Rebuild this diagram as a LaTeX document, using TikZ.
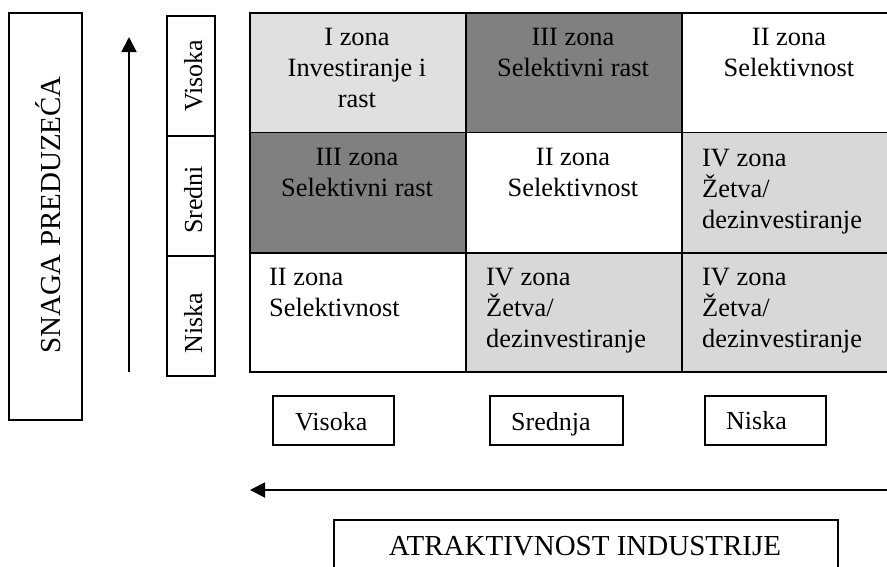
\documentclass[tikz,border=0pt]{standalone}
\usepackage{fontspec}
\setmainfont{Liberation Serif}
\usetikzlibrary{arrows.meta}
\definecolor{zoneI}{HTML}{E0E0E0}
\definecolor{zoneIII}{HTML}{808080}
\definecolor{zoneIV}{HTML}{D8D8D8}
\tikzset{
  box/.style={draw=black, line width=1.9pt, inner sep=0pt, anchor=north west},
  cell/.style={box, minimum width=216pt, minimum height=120pt},
  rowlab/.style={box, minimum width=48pt, minimum height=120pt},
  celltxt/.style={inner sep=0pt, font=\fontsize{26.4}{31.3}\selectfont},
  ctxt/.style={celltxt, align=center, anchor=north},
  ltxt/.style={celltxt, align=left, anchor=north west},
  labtxt/.style={inner sep=0pt, font=\fontsize{26}{30}\selectfont},
  bigtxt/.style={inner sep=0pt, font=\fontsize{29}{34}\selectfont},
  arr/.style={line width=1.9pt, -{Triangle[width=15pt,length=15pt]}}
}
\begin{document}
\begin{tikzpicture}[x=1pt,y=-1pt]
\useasboundingbox (0,0) rectangle (887,566);
\clip (0,0) rectangle (887,566);
% left title box
\node[box, minimum width=73pt, minimum height=407pt] (snaga) at (8,12) {};
\node[bigtxt, rotate=90, anchor=base] (snagat) at (60,215) {SNAGA PREDUZEĆA};
% vertical arrow
\coordinate (vbot) at (129,372);
\coordinate (vtop) at (129,37);
\draw[arr] (vbot) -- (vtop);
% row labels
\node[rowlab] (rv) at (166,15) {};
\node[rowlab] (rs) at (166,135) {};
\node[rowlab] (rn) at (166,255) {};
\node[labtxt, rotate=90, anchor=base] at (202,75.5) {Visoka};
\node[labtxt, rotate=90, anchor=base] at (202,200) {Sredni};
\node[labtxt, rotate=90, anchor=base] at (202,323) {Niska};
% grid cells
\node[cell, fill=zoneI]   (c11) at (249,12) {};
\node[cell, fill=zoneIII] (c12) at (465,12) {};
\node[cell, fill=white]   (c13) at (681,12) {};
\node[cell, fill=zoneIII, minimum height=120.5pt] (c21) at (249,131.5) {};
\node[cell, fill=white, minimum height=120.5pt]   (c22) at (465,131.5) {};
\node[cell, fill=zoneIV, minimum height=120.5pt]  (c23) at (681,131.5) {};
\node[cell, fill=white, minimum height=119pt]   (c31) at (249,252) {};
\node[cell, fill=zoneIV, minimum height=119pt]  (c32) at (465,252) {};
\node[cell, fill=zoneIV, minimum height=119pt]  (c33) at (681,252) {};
% cell texts
\node[ctxt] at (357,27.7) {I zona\\Investiranje i\\rast};
\node[ctxt] at (573,27.7) {III zona\\Selektivni rast};
\node[ctxt] at (789,27.7) {II zona\\Selektivnost};
\node[ctxt] at (357,148.2) {III zona\\Selektivni rast};
\node[ctxt] at (573,148.2) {II zona\\Selektivnost};
\node[ltxt] at (702,148.7) {IV zona\\Žetva/\\dezinvestiranje};
\node[ltxt] at (269,267.7) {II zona\\Selektivnost};
\node[ltxt] at (486,267.7) {IV zona\\Žetva/\\dezinvestiranje};
\node[ltxt] at (702,267.7) {IV zona\\Žetva/\\dezinvestiranje};
% bottom labels
\node[box, minimum width=121pt, minimum height=49pt] (bv) at (272,395) {};
\node[box, minimum width=133pt, minimum height=49pt] (bs) at (489,395) {};
\node[box, minimum width=121pt, minimum height=49pt] (bn) at (704,395) {};
\node[labtxt, anchor=base west] at (295,430) {Visoka};
\node[labtxt, anchor=base west] at (511,430) {Srednja};
\node[labtxt, anchor=base west] at (726,429) {Niska};
% horizontal arrow
\coordinate (hr) at (892,490);
\coordinate (hl) at (250,490);
\draw[arr] (hr) -- (hl);
% bottom title
\node[box, minimum width=504pt, minimum height=80pt] (atr) at (333,519) {};
\node[bigtxt, anchor=base] at (585,555) {ATRAKTIVNOST INDUSTRIJE};
\end{tikzpicture}
\end{document}
